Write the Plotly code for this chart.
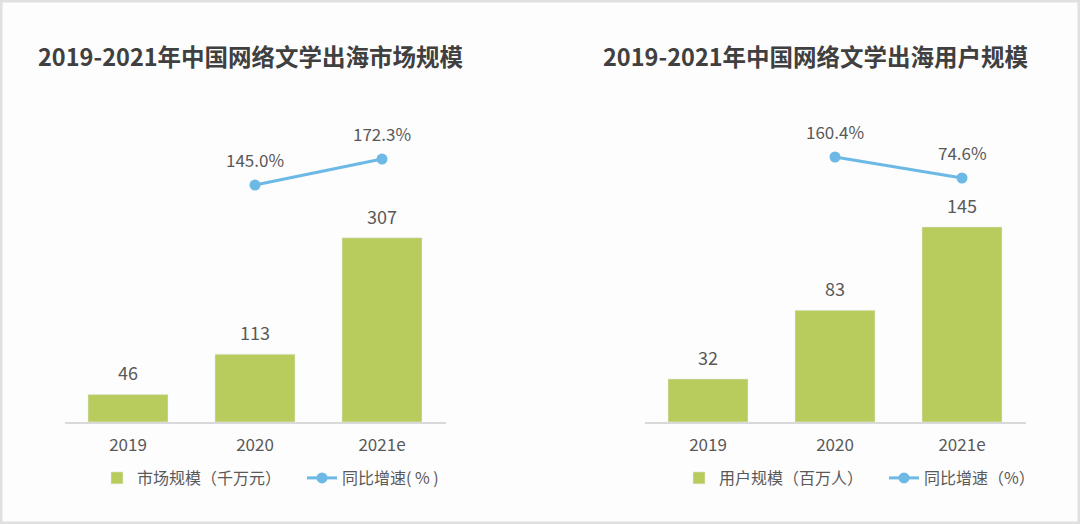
import plotly.graph_objects as go

categories = ["2019", "2020", "2021e"]
market_size = [46, 113, 307]          # 千万元
market_growth = [None, 145.0, 172.3]  # %
user_size = [32, 83, 145]             # 百万人
user_growth = [None, 160.4, 74.6]     # %

title_left = "2019-2021年中国网络文学出海市场规模"
title_right = "2019-2021年中国网络文学出海用户规模"
bar_name_left = "市场规模（千万元）"
bar_name_right = "用户规模（百万人）"
line_name_left = "同比增速( % )"
line_name_right = "同比增速（%）"

BAR_COLOR = "#b8cc5e"
LINE_COLOR = "#6cb9e6"
TEXT_COLOR = "#595959"
FONT = "Noto Sans CJK SC"

W, H = 1080, 524
y_bottom = (H - 422) / H
y_top = (H - 100) / H

idx = list(range(len(categories)))

fig = go.Figure()

fig.add_trace(go.Bar(x=idx, y=market_size, name=bar_name_left, marker_color=BAR_COLOR,
                     width=0.63, xaxis="x", yaxis="y", legend="legend", hoverinfo="skip"))
fig.add_trace(go.Scatter(x=idx, y=market_growth, name=line_name_left, mode="lines+markers",
                         line=dict(color=LINE_COLOR, width=3), marker=dict(size=11, color=LINE_COLOR),
                         xaxis="x", yaxis="y2", legend="legend", hoverinfo="skip"))
fig.add_trace(go.Bar(x=idx, y=user_size, name=bar_name_right, marker_color=BAR_COLOR,
                     width=0.63, xaxis="x2", yaxis="y3", legend="legend2", hoverinfo="skip"))
fig.add_trace(go.Scatter(x=idx, y=user_growth, name=line_name_right, mode="lines+markers",
                         line=dict(color=LINE_COLOR, width=3), marker=dict(size=11, color=LINE_COLOR),
                         xaxis="x2", yaxis="y4", legend="legend2", hoverinfo="skip"))

annotations = []
for xa, ya, vals in (("x", "y", market_size), ("x2", "y3", user_size)):
    for i, v in zip(idx, vals):
        annotations.append(dict(x=i, y=v, xref=xa, yref=ya, text=str(v), showarrow=False,
                                yanchor="bottom", yshift=7, font=dict(size=18, color=TEXT_COLOR, family=FONT)))
for xa, ya, vals in (("x", "y2", market_growth), ("x2", "y4", user_growth)):
    for i, v in zip(idx, vals):
        if v is None:
            continue
        annotations.append(dict(x=i, y=v, xref=xa, yref=ya, text=f"{v:.1f}%", showarrow=False,
                                yanchor="bottom", yshift=11, font=dict(size=17, color=TEXT_COLOR, family=FONT)))

annotations.append(dict(x=36 / W, y=(H - 56) / H, xref="paper", yref="paper", text=f"<b>{title_left}</b>",
                        showarrow=False, xanchor="left", yanchor="middle",
                        font=dict(size=23.5, color="#404040", family=FONT)))
annotations.append(dict(x=601 / W, y=(H - 56) / H, xref="paper", yref="paper", text=f"<b>{title_right}</b>",
                        showarrow=False, xanchor="left", yanchor="middle",
                        font=dict(size=23.5, color="#404040", family=FONT)))

xaxis_common = dict(range=[-0.5, 2.5], tickmode="array", tickvals=idx, ticktext=categories,
                    showgrid=False, zeroline=False, showline=True, linecolor="#d9d9d9",
                    linewidth=1.5, ticks="", tickfont=dict(size=17, color=TEXT_COLOR, family=FONT),
                    ticklabelstandoff=7, fixedrange=True)
yaxis_common = dict(showgrid=False, zeroline=False, showline=False, showticklabels=False, fixedrange=True)

legend_common = dict(orientation="h", yanchor="middle", font=dict(size=16, color=TEXT_COLOR, family=FONT),
                     itemwidth=30, bgcolor="rgba(0,0,0,0)", traceorder="normal", entrywidth=160)

fig.update_layout(
    width=W, height=H,
    margin=dict(l=0, r=0, t=0, b=0, autoexpand=False),
    paper_bgcolor="#fdfdfd", plot_bgcolor="rgba(0,0,0,0)",
    font=dict(family=FONT, color=TEXT_COLOR),
    showlegend=True,
    xaxis=dict(domain=[64.5 / W, 445.5 / W], anchor="y", **xaxis_common),
    xaxis2=dict(domain=[644.5 / W, 1025.5 / W], anchor="y3", **xaxis_common),
    yaxis=dict(domain=[y_bottom, y_top], range=[0, 536.7], anchor="x", **yaxis_common),
    yaxis2=dict(domain=[y_bottom, y_top], range=[-103.9, 234.3], overlaying="y", anchor="x", side="right", **yaxis_common),
    yaxis3=dict(domain=[y_bottom, y_top], range=[0, 239.4], anchor="x2", **yaxis_common),
    yaxis4=dict(domain=[y_bottom, y_top], range=[-922.1, 393.2], overlaying="y3", anchor="x2", side="right", **yaxis_common),
    legend=dict(x=97 / W, y=(H - 478) / H, xanchor="left", **legend_common),
    legend2=dict(x=679 / W, y=(H - 478) / H, xanchor="left", **legend_common),
    annotations=annotations,
    shapes=[dict(type="rect", xref="paper", yref="paper", x0=0, y0=0, x1=1, y1=1,
                 line=dict(color="#e0e0e0", width=5), fillcolor="rgba(0,0,0,0)", layer="above")],
)

fig.write_html("out.html", config={"displayModeBar": False})
